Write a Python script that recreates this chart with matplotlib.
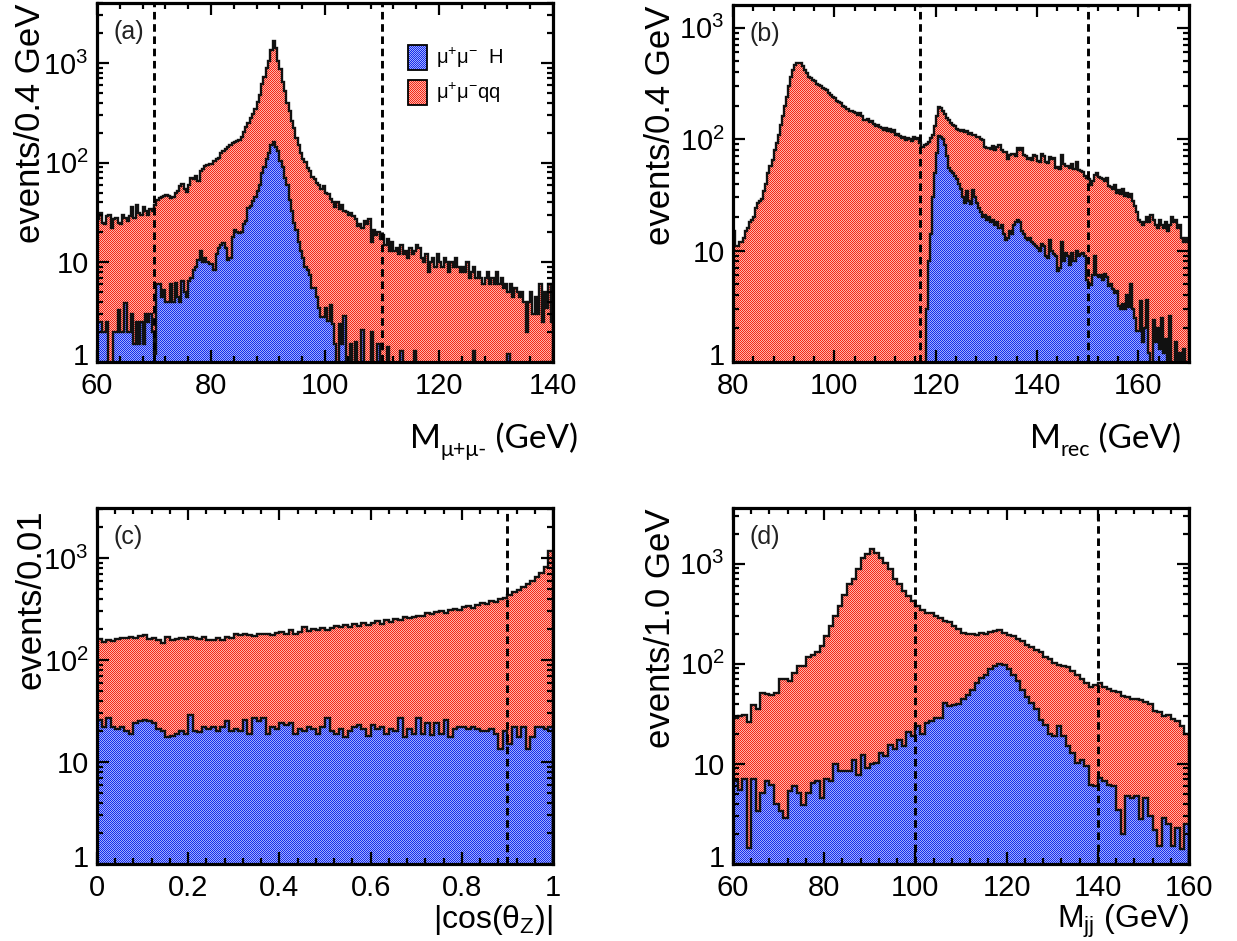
import numpy as np
import matplotlib
matplotlib.use("Agg")
import matplotlib.pyplot as plt
from matplotlib.patches import Rectangle
from matplotlib.transforms import ScaledTranslation
from matplotlib.ticker import FixedLocator, MultipleLocator, LogLocator, FuncFormatter, NullFormatter

plt.rcParams['font.family'] = ['Liberation Sans', 'DejaVu Sans']
plt.rcParams['mathtext.fontset'] = 'custom'
plt.rcParams['mathtext.rm'] = 'Liberation Sans'
plt.rcParams['mathtext.it'] = 'Liberation Sans:italic'
plt.rcParams['mathtext.bf'] = 'Liberation Sans:bold'
plt.rcParams['mathtext.default'] = 'regular'

# ---------------- data ----------------
# (a) dimuon invariant mass, 0.4 GeV bins from 60 to 140 GeV
EDGES_A = np.linspace(60, 140, 201)
BKG_A = [
    27, 31, 25, 24, 29, 30, 22, 27, 28, 25,
    24, 30, 28, 26, 29, 36, 28, 38, 31, 30,
    36, 33, 30, 34, 33, 38, 42, 44, 45, 46,
    47, 46, 44, 45, 50, 52, 58, 61, 55, 51,
    60, 70, 68, 73, 66, 82, 86, 92, 95, 96,
    97, 104, 110, 112, 124, 130, 138, 145, 150, 158,
    163, 165, 170, 182, 205, 230, 252, 280, 305, 345,
    410, 480, 620, 720, 900, 1050, 1350, 1650, 1400, 1050,
    880, 650, 520, 400, 330, 260, 225, 175, 150, 125,
    110, 102, 88, 82, 72, 68, 62, 60, 54, 58,
    50, 49, 43, 40, 36, 40, 34, 38, 33, 32,
    30, 31, 29, 27, 23, 24, 22, 26, 24, 27,
    16, 21, 19, 20, 17, 19, 15, 17, 13, 16,
    13, 14, 12, 15, 12, 13, 11, 14, 12, 13,
    15, 14, 11, 10, 12, 8, 10, 11, 9, 12,
    10, 9, 11, 10, 8, 10, 9, 11, 9, 8,
    9, 8, 10, 7, 8, 9, 7, 8, 7, 6,
    7, 8, 6, 7, 6, 8, 6, 7, 5.5, 6,
    5, 6, 4.5, 5.5, 5, 4.5, 5, 4, 2, 4,
    5, 3, 4.5, 3, 6, 2.5, 5, 3.5, 6, 2.5,
]
SIG_A = [
    2.5, 2.5, 2, 2, 2.5, 0, 0, 2, 2, 3.3,
    2, 2, 3.9, 2, 2, 3, 1.5, 2.5, 1.5, 2.5,
    1.5, 3, 2.5, 3, 2, 1.2, 6, 6, 4.5, 5.3,
    4, 4, 6, 4, 6.2, 4.5, 4, 6.5, 5, 4.5,
    6.5, 7, 8.3, 9, 10.5, 13, 10, 11, 10, 9.7,
    9.7, 8.3, 12, 14, 15, 15.5, 14, 10.5, 11, 18,
    21, 20, 19.5, 20, 24, 26, 35, 37, 41, 45,
    52, 60, 78, 90, 110, 125, 150, 162, 145, 130,
    105, 90, 70, 60, 42, 33, 25, 21, 16, 13,
    11, 9, 8.3, 7.5, 5.5, 5.5, 4.5, 3.5, 2.8, 2.8,
    3.5, 2.6, 3.7, 2.4, 1.5, 0, 2.4, 1.5, 2.9, 0,
    0, 1.5, 0, 1.6, 0, 0, 2.1, 0, 0, 0,
    2, 0, 0, 1.5, 0, 0, 0, 1.4, 0, 0,
    0, 0, 0, 1.3, 0, 0, 0, 0, 0, 1.3,
    0, 0, 0, 0, 0, 0, 0, 0, 0, 0,
    0, 0, 0, 0, 0, 0, 0, 0, 0, 0,
    0, 0, 0, 0, 0, 1.3, 0, 0, 0, 0,
    0, 0, 0, 0, 0, 0, 0, 0, 0, 0,
    1.2, 0, 0, 0, 0, 0, 0, 0, 0, 0,
    0, 0, 0, 0, 0, 0, 0, 0, 0, 0,
]
CUTS_A = [70, 110]

# (b) recoil mass, 0.4 GeV bins from 80 to 170 GeV
EDGES_B = np.linspace(80, 170, 226)
BKG_B = [
    15, 11, 11, 12, 12, 13, 15, 16, 18, 19,
    20, 24, 27, 28, 29, 34, 40, 50, 58, 65,
    80, 92, 110, 135, 160, 200, 240, 300, 360, 420,
    460, 480, 478, 482, 450, 420, 390, 365, 355, 340,
    330, 315, 305, 300, 290, 280, 275, 262, 250, 240,
    232, 222, 215, 210, 200, 195, 188, 180, 178, 175,
    172, 165, 170, 160, 150, 148, 152, 142, 145, 138,
    132, 135, 128, 125, 122, 127, 118, 124, 115, 120,
    110, 112, 106, 102, 104, 98, 102, 100, 96, 104,
    100, 103, 92, 85, 88, 91, 95, 102, 110, 130,
    160, 195, 190, 178, 168, 155, 148, 140, 135, 130,
    124, 120, 118, 122, 115, 118, 112, 114, 108, 110,
    104, 105, 100, 98, 85, 84, 83, 82, 86, 80,
    85, 88, 80, 76, 77, 66, 72, 73, 74, 70,
    83, 80, 84, 72, 70, 66, 68, 65, 72, 70,
    64, 62, 73, 70, 62, 61, 69, 66, 68, 55,
    56, 54, 72, 60, 58, 57, 55, 60, 54, 62,
    53, 52, 51, 47, 45, 44, 39, 42, 48, 50,
    46, 45, 44, 42, 45, 38, 37, 36, 39, 33,
    35, 32, 36, 31, 33, 30, 32, 28, 25, 22,
    19, 18, 17, 18, 20, 18, 21, 19, 17, 16,
    19, 17, 16, 18, 15, 17, 20, 18, 19, 16,
    17, 13, 12, 13, 12,
]
SIG_B = [0] * 95 + [
    3, 8, 14, 30, 50, 75, 107, 105, 100, 88,
    70, 55, 52, 50, 47, 44, 40, 36, 30, 27,
    34, 28, 26, 35, 30, 27, 24, 22, 20, 21,
    19, 20, 18, 19, 17, 18, 16, 17, 14, 12.5,
    13, 15, 14, 17, 18, 19, 18, 15, 14, 13,
    12.5, 13, 12, 11.5, 11, 10.5, 10, 11.5, 11, 9,
    8.5, 12.5, 10, 9.3, 9, 6.6, 7, 12, 8, 9.5,
    9, 7.5, 9.5, 8, 10, 9, 9.3, 9.5, 9, 5.5,
    5, 4.9, 6, 9, 6, 5.8, 6, 5.5, 6.2, 5.8,
    4.8, 5, 4.5, 4.2, 4.3, 3.2, 3, 3.3, 3, 4,
    3.1, 5, 3, 2.5, 1.9, 1.9, 3.5, 1.5, 2, 3.6,
    1.2, 0, 2.4, 1.5, 2, 1.3, 2.5, 1.2, 1.6, 0,
    2.6, 0, 0, 1.5, 0, 1.2, 0, 1.3, 0, 0,
]
CUTS_B = [117, 150]

# (c) |cos(theta_Z)|, bins of 0.01
EDGES_C = np.linspace(0, 1, 101)
BKG_C = [
    160, 150, 158, 155, 162, 165, 163, 168, 164, 172,
    176, 160, 165, 158, 146, 168, 158, 162, 166, 160,
    170, 165, 162, 168, 158, 156, 165, 158, 168, 165,
    180, 178, 182, 176, 172, 180, 182, 180, 178, 185,
    190, 182, 195, 180, 188, 210, 192, 200, 195, 205,
    198, 208, 215, 210, 220, 212, 225, 218, 230, 222,
    232, 240, 228, 245, 238, 255, 248, 262, 258, 265,
    268, 272, 290, 280, 295, 300, 292, 310, 318, 312,
    330, 338, 325, 350, 362, 355, 380, 372, 395, 410,
    430, 470, 490, 520, 560, 600, 650, 720, 820, 1180,
]
SIG_C = [
    26, 22, 27, 22, 21, 22, 20, 19, 24, 25,
    26, 25, 24, 21, 20, 17.5, 18, 19, 20, 19,
    29, 20, 19.5, 22, 21, 22, 20, 22, 25, 20,
    21, 20, 26, 19, 27, 25, 27, 19, 22, 21,
    24, 23, 24, 19, 21, 20, 22, 21, 19, 22,
    27, 20, 19, 21, 17.5, 20, 22, 23, 21, 18,
    23, 21, 22, 19, 21, 20, 27, 17.5, 21, 19,
    27, 19, 24, 18.5, 24, 19, 26, 17.5, 21, 22,
    22, 21, 22, 21, 20, 20, 21, 19, 13.5, 20,
    15, 22, 17.5, 22, 13.5, 17.5, 22, 22, 21, 22,
]
CUTS_C = [0.9]

# (d) dijet invariant mass, 1 GeV bins from 60 to 160 GeV
EDGES_D = np.linspace(60, 160, 101)
BKG_D = [
    29, 30, 31, 26, 39, 35, 51, 50, 49, 51,
    70, 71, 68, 80, 94, 96, 118, 122, 130, 152,
    190, 237, 300, 375, 490, 620, 700, 880, 1150, 1250,
    1400, 1290, 1150, 1020, 880, 700, 620, 535, 480, 425,
    375, 345, 325, 320, 300, 290, 270, 262, 240, 225,
    205, 200, 198, 196, 205, 200, 210, 212, 220, 205,
    192, 188, 178, 170, 155, 148, 138, 132, 118, 112,
    102, 98, 95, 92, 84, 78, 70, 65, 58, 62,
    65, 58, 56, 54, 52, 48, 47, 44, 45, 43,
    42, 40, 34, 33, 30, 31, 28, 27, 24, 20,
]
SIG_D = [
    6.7, 5.5, 7, 1.45, 7, 3.4, 5.1, 6.7, 6.2, 4,
    3.4, 2.9, 5.3, 6, 5.1, 3.9, 5.1, 6.5, 6.7, 4.6,
    7, 6.7, 10, 8.4, 8.5, 8.5, 11, 7.8, 12.4, 9.1,
    10, 10.3, 12.8, 12, 15.6, 14, 17.5, 15, 21, 19,
    24, 20, 25.7, 27, 29, 29, 40.8, 38, 39, 40,
    44, 49, 55, 64, 72, 78, 88, 95, 100, 98,
    88, 78, 67, 55, 47, 40.8, 35, 27.7, 24.7, 20,
    19, 24, 19, 15, 12.8, 10.3, 11, 9.5, 6.2, 6,
    7.2, 6.7, 6.2, 6, 3.5, 2, 4.8, 4.6, 4.8, 2.8,
    4.6, 3, 2.2, 1.5, 2.9, 2.5, 1.5, 2.3, 1.4, 2.5,
]
CUTS_D = [100, 140]

LEGEND_LABELS = [r'$\mu^{+}\mu^{-}$  H', r'$\mu^{+}\mu^{-}$qq']

# ---------------- style ----------------
W, H = 1237, 941
RED_DARK, RED_LIGHT = (0.96, 0.16, 0.10), (1.0, 0.70, 0.66)
BLUE_DARK, BLUE_LIGHT = (0.10, 0.18, 0.92), (0.62, 0.68, 1.0)
FLOOR = 0.5
TICK_FS = 21
LABEL_FAMILY = ['Lato', 'Open Sans', 'DejaVu Sans']

fig = plt.figure(figsize=(W / 100, H / 100), dpi=100)


def axes_px(x0, y0, x1, y1):
    return fig.add_axes([x0 / W, 1 - y1 / H, (x1 - x0) / W, (y1 - y0) / H])


def checker(h, w, dark, light):
    yy, xx = np.mgrid[0:h, 0:w]
    m = ((xx + yy) % 2 == 0)[..., None]
    return np.where(m, np.array(dark), np.array(light))


CHECK_RED = checker(H, W, RED_DARK, RED_LIGHT)
CHECK_BLUE = checker(H, W, BLUE_DARK, BLUE_LIGHT)


def filled_hist(ax, edges, values, texture, z):
    """Step histogram whose area is filled with a pixel checkerboard."""
    v = np.asarray(values, float)
    v = np.where(v > 0, v, FLOOR)
    area = ax.stairs(v, edges, baseline=FLOOR, fill=True, facecolor='none',
                     edgecolor='none', zorder=z)
    im = fig.figimage(texture, xo=0, yo=0, origin='lower', zorder=-10 + z)
    im.set_clip_path(area)
    im.set_clip_box(ax.bbox)
    ax.stairs(v, edges, baseline=FLOOR, fill=False, edgecolor='#111111',
              linewidth=1.7, zorder=z + 0.2)


def y_fmt(v, pos):
    return {1: '1', 10: '10', 100: r'$10^{2}$', 1000: r'$10^{3}$'}.get(int(round(v)), '')


def panel(box, edges, bkg, sig, cuts, xlim, ytop, xmajor, xminor, tag):
    ax = axes_px(*box)
    ax.set_facecolor('none')
    ax.set_yscale('log')
    ax.set_xlim(*xlim)
    ax.set_ylim(1, ytop)
    ax.set_autoscale_on(False)
    filled_hist(ax, edges, bkg, CHECK_RED, 1)
    filled_hist(ax, edges, sig, CHECK_BLUE, 2)
    for c in cuts:
        ax.axvline(c, color='black', lw=2.1, ls=(0, (2.6, 1.6)), zorder=4)
    ax.xaxis.set_major_locator(MultipleLocator(xmajor))
    ax.xaxis.set_minor_locator(MultipleLocator(xminor))
    ax.xaxis.set_major_formatter(FuncFormatter(lambda v, p: '%g' % v))
    ax.yaxis.set_major_locator(FixedLocator([1, 10, 100, 1000]))
    ax.yaxis.set_minor_locator(LogLocator(base=10, subs=np.arange(2, 10)))
    ax.yaxis.set_major_formatter(FuncFormatter(y_fmt))
    ax.yaxis.set_minor_formatter(NullFormatter())
    ax.tick_params(which='both', direction='in', top=True, right=True,
                   width=1.6, labelsize=TICK_FS)
    ax.tick_params(axis='x', which='major', pad=7)
    ax.tick_params(axis='y', which='major', pad=6)
    ax.tick_params(which='major', length=8.5)
    ax.tick_params(which='minor', length=4.3)
    # lift the bottom "1" label a little so it clears the first x label
    lab = ax.yaxis.get_major_ticks()[0].label1
    lab.set_transform(lab.get_transform() + ScaledTranslation(0, 6 / 72, fig.dpi_scale_trans))
    for s in ax.spines.values():
        s.set_linewidth(2.3)
        s.set_zorder(6)
    ax.text(0.037, 0.918, tag, transform=ax.transAxes, fontsize=18,
            color='#222222', ha='left', va='center')
    return ax


ax_a = panel((97, 3, 553, 362), EDGES_A, BKG_A, SIG_A, CUTS_A, (60, 140), 4000, 20, 4, '(a)')
ax_b = panel((733, 5, 1189, 362), EDGES_B, BKG_B, SIG_B, CUTS_B, (80, 170), 1600, 20, 4, '(b)')
ax_c = panel((97, 508, 553, 864), EDGES_C, BKG_C, SIG_C, CUTS_C, (0, 1), 3100, 0.2, 0.04, '(c)')
ax_d = panel((733, 508, 1189, 864), EDGES_D, BKG_D, SIG_D, CUTS_D, (60, 160), 3600, 20, 4, '(d)')

# y-axis titles, aligned to the top of each frame
for x, ytop, s in [(31, 4, 'events/0.4 GeV'), (661, 6, 'events/0.4 GeV'),
                   (31, 509, 'events/0.01'), (661, 509, 'events/1.0 GeV')]:
    fig.text(x / W, 1 - ytop / H, s, rotation=90, ha='center', va='top', fontsize=25)

# x-axis titles of the upper row, set piece by piece with a lowered subscript
renderer = fig.canvas.get_renderer()


def pieced_label(x, y, parts):
    cx = x
    for s, size, dy in parts:
        t = fig.text(cx / W, 1 - (y + dy) / H, s, fontsize=size, family=LABEL_FAMILY,
                     ha='left', va='baseline')
        cx += t.get_window_extent(renderer).width


pieced_label(410, 448, [('M', 24, 0), ('\u03bc+\u03bc-', 15.5, 8), (' (GeV)', 24, 0)])
pieced_label(1030, 448, [('M', 24, 0), ('rec', 15.5, 8), (' (GeV)', 24, 0)])

# x-axis titles of the lower row
fig.text(553 / W, 1 - 928 / H, r'|cos($\theta_{Z}$)|', ha='right',
         va='baseline', fontsize=23)
fig.text(1189 / W, 1 - 928 / H, r'M$_{jj}$ (GeV)', ha='right',
         va='baseline', fontsize=23)

# legend in panel (a)
for (y0, dark, light, label) in [(45, BLUE_DARK, BLUE_LIGHT, LEGEND_LABELS[0]),
                                 (80, RED_DARK, RED_LIGHT, LEGEND_LABELS[1])]:
    sw, sh = 19, 25
    fig.figimage(checker(sh, sw, dark, light), xo=408, yo=H - y0 - sh, zorder=7)
    fig.add_artist(Rectangle((408 / W, 1 - (y0 + sh) / H), sw / W, sh / H,
                             transform=fig.transFigure, fill=False,
                             edgecolor='black', linewidth=1.3, zorder=8))
    fig.text(436 / W, 1 - (y0 + sh / 2) / H, label, ha='left', va='center',
             fontsize=14.5, zorder=8)

fig.savefig('out.png', dpi=100)
